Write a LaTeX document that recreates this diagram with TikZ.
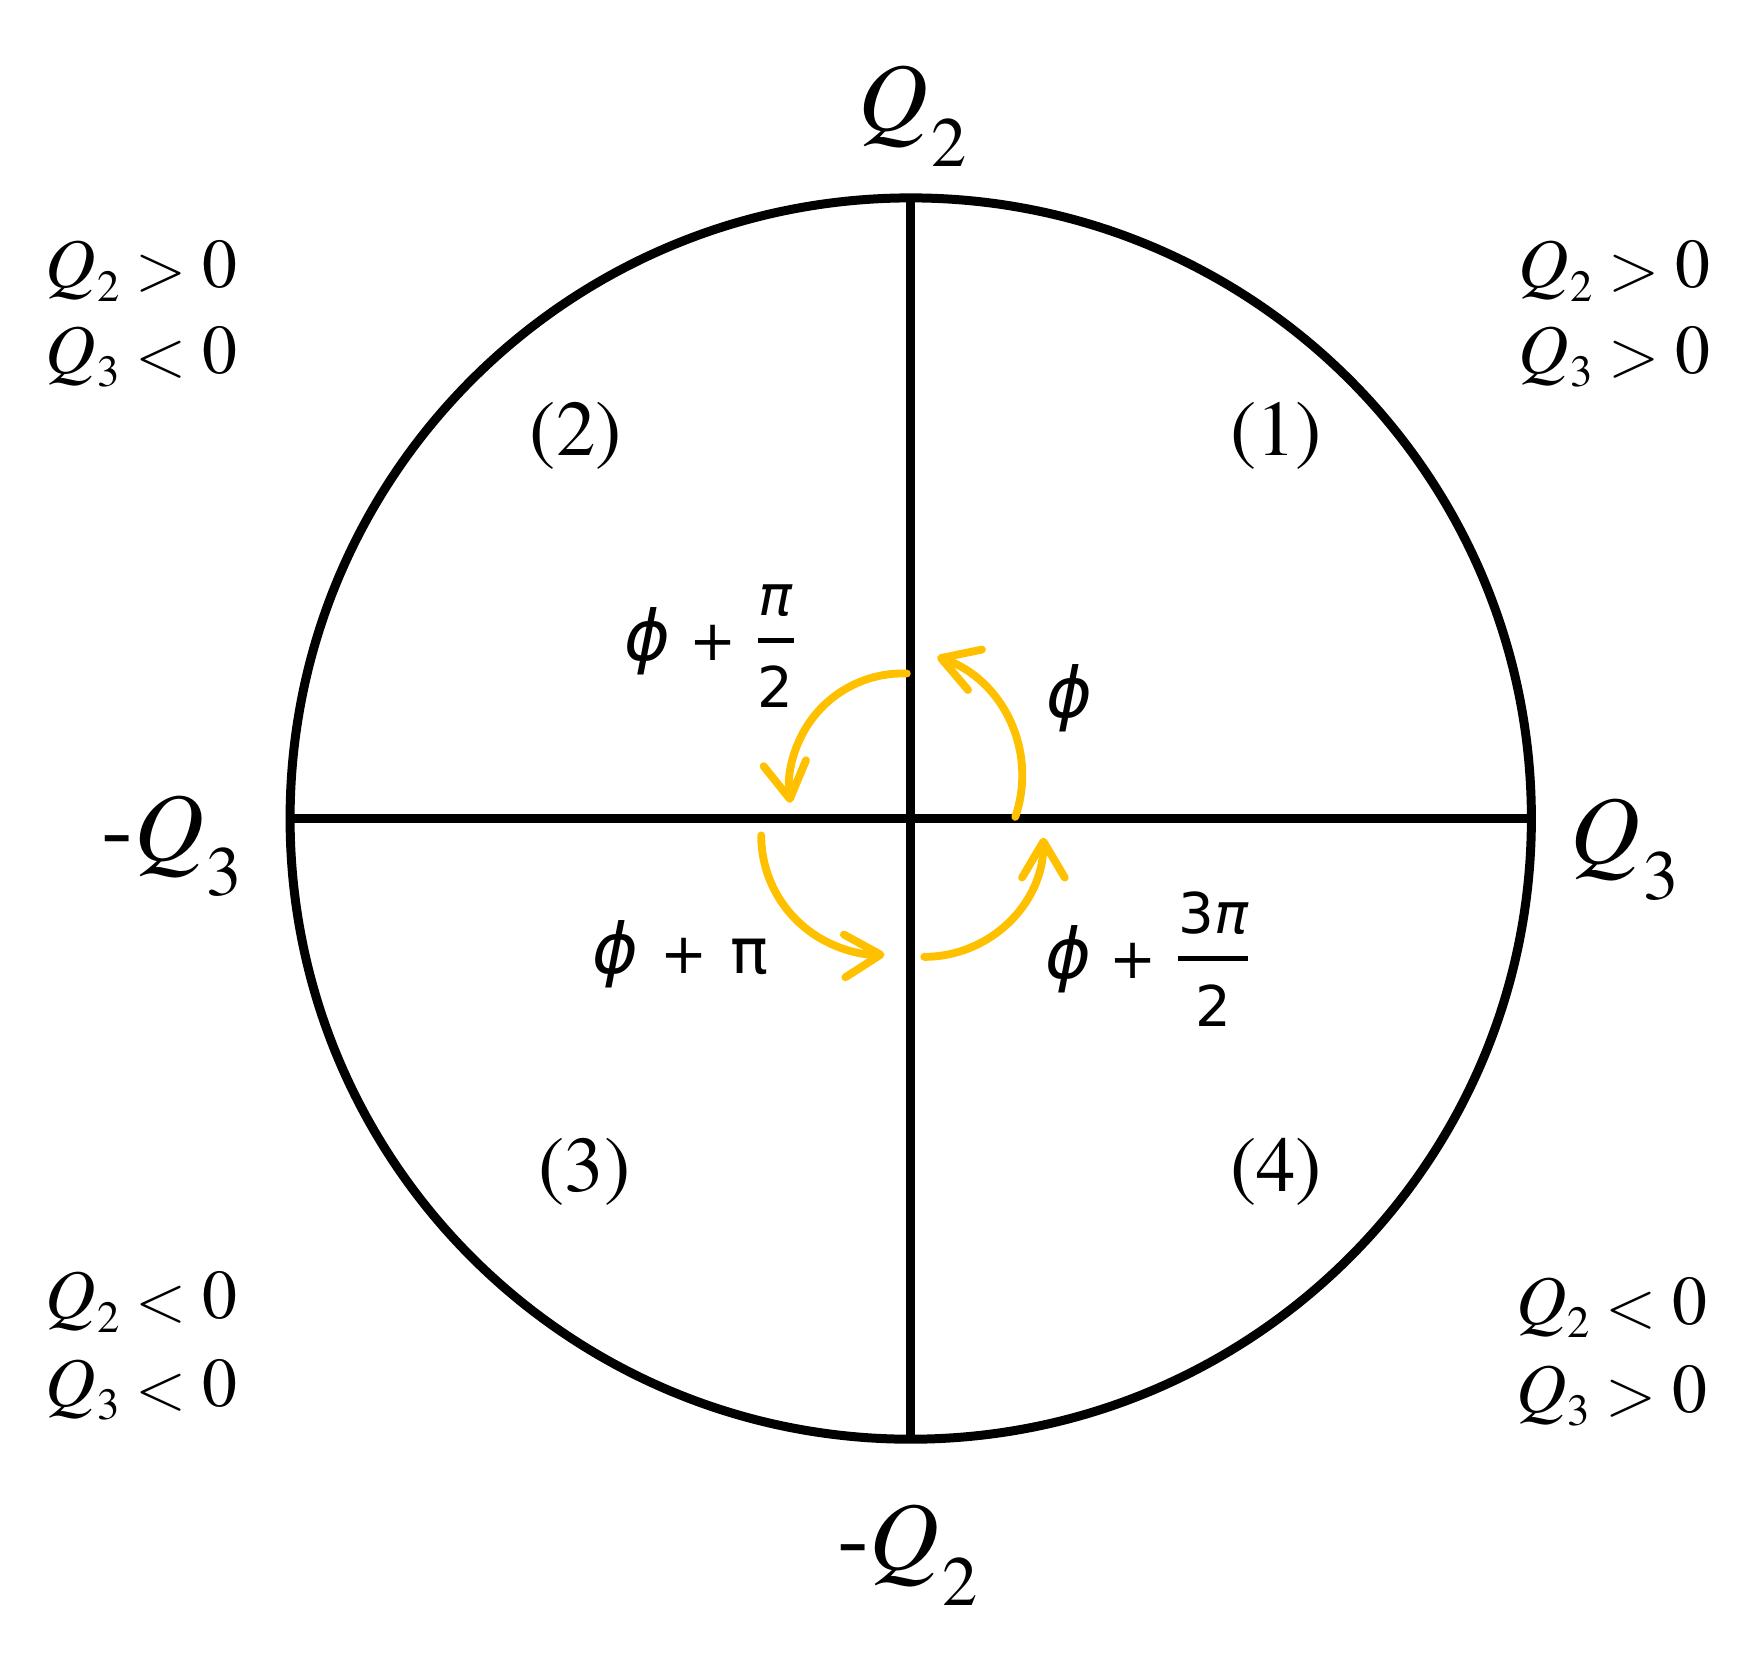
\documentclass[tikz,border=0pt]{standalone}
\usepackage{fontspec}
\setmainfont{texgyretermes}[Extension=.otf, UprightFont=*-regular, ItalicFont=*-italic, BoldFont=*-bold, BoldItalicFont=*-bolditalic]
\newfontfamily\angfont{DejaVu Sans}
\usetikzlibrary{arrows.meta}
\definecolor{gold}{HTML}{FFC000}
\newcommand\QB[1]{\textit{Q}\kern0.03em\raisebox{-0.37em}{\scalebox{0.73}{#1}}}
\newcommand\QC[1]{\textit{Q}\kern0.02em\raisebox{-0.19em}{\scalebox{0.64}{#1}}}
\newcommand\rel[1]{\hspace{7pt}\raisebox{-0.04em}{\scalebox{1.2}{$#1$}}\hspace{7pt}}
\newcommand\angphi{{\fontsize{31}{36}\selectfont\itshape ϕ}}
\newcommand\angpi{{\fontsize{28}{32}\selectfont π}}
\newcommand\angfrac[2]{\raisebox{0.1em}{$\displaystyle{\mbox{\angfont\rule[-4pt]{0pt}{0pt}#1}\above 2pt\mbox{\angfont\rule{0pt}{23pt}#2}}$}}
\begin{document}
\begin{tikzpicture}[x=0.5pt,y=0.5pt,
  axisline/.style={line width=4pt, black},
  rotarrow/.style={line width=3.5pt, gold, line cap=round,
    -{Straight Barb[length=16pt,width=19pt,round]}},
  biglab/.style={inner sep=0pt, anchor=base, font=\fontsize{43}{50}\selectfont},
  cornerlab/.style={inner sep=0pt, anchor=base west, font=\fontsize{31}{38}\selectfont},
  quadlab/.style={inner sep=0pt, font=\fontsize{35}{42}\selectfont},
  anglelab/.style={inner sep=0pt, anchor=base, font=\angfont\fontsize{25}{30}\selectfont}]
\useasboundingbox (0,0) rectangle (1568,-1485);

% circle and axes
\coordinate (O) at (810,-728);
\node[draw, circle, line width=4pt, minimum size=1104*0.5pt, inner sep=0pt] (C) at (O) {};
\coordinate (T) at (810,-176);
\coordinate (B) at (810,-1280);
\coordinate (L) at (258,-728);
\coordinate (R) at (1362,-728);
\draw[axisline] (T) -- (B);
\draw[axisline] (L) -- (R);

% axis labels
\node[biglab] (q2) at (812,-116) {\QB{2}};
\node[biglab] (mq2) at (807,-1396) {-\QB{2}};
\node[biglab] (mq3) at (153,-765) {-\QB{3}};
\node[biglab] (q3) at (1445,-768) {\QB{3}};

% corner conditions
\node[cornerlab] (tl1) at (40,-256) {\QC{2}\rel{>}0};
\node[cornerlab] (tl2) at (40,-332) {\QC{3}\rel{<}0};
\node[cornerlab] (tr1) at (1350,-256) {\QC{2}\rel{>}0};
\node[cornerlab] (tr2) at (1350,-332) {\QC{3}\rel{>}0};
\node[cornerlab] (bl1) at (40,-1173) {\QC{2}\rel{<}0};
\node[cornerlab] (bl2) at (40,-1251) {\QC{3}\rel{<}0};
\node[cornerlab] (br1) at (1348,-1178) {\QC{2}\rel{<}0};
\node[cornerlab] (br2) at (1348,-1256) {\QC{3}\rel{>}0};

% quadrant numbers
\node[quadlab] (n1) at (1135,-388) {(1)};
\node[quadlab] (n2) at (512,-388) {(2)};
\node[quadlab] (n3) at (520,-1042) {(3)};
\node[quadlab] (n4) at (1135,-1042) {(4)};

% rotation arrows
\coordinate (a1) at (903,-726.5);
\coordinate (a2) at (806.5,-599);
\coordinate (a3) at (677,-743);
\coordinate (a4) at (822,-851);
\draw[rotarrow] (a1) arc[start angle=-19, end angle=71, radius=112];
\draw[rotarrow] (a2) arc[start angle=88, end angle=188, radius=101];
\draw[rotarrow] (a3) arc[start angle=180, end angle=272, radius=106];
\draw[rotarrow] (a4) arc[start angle=-90, end angle=0, radius=106];

% angle labels
\node[anglelab] (p2) at (632,-587) {\angphi\hspace{0.33em}+\hspace{0.33em}\angfrac{\itshape π}{2}};
\node[anglelab] (p1) at (951,-638) {\angphi};
\node[anglelab] (p3) at (605,-866) {\angphi\hspace{0.4em}+\hspace{0.4em}\angpi};
\node[anglelab] (p4) at (1021,-870) {\angphi\hspace{0.33em}+\hspace{0.33em}\angfrac{3\itshape π}{2}};
\end{tikzpicture}
\end{document}
